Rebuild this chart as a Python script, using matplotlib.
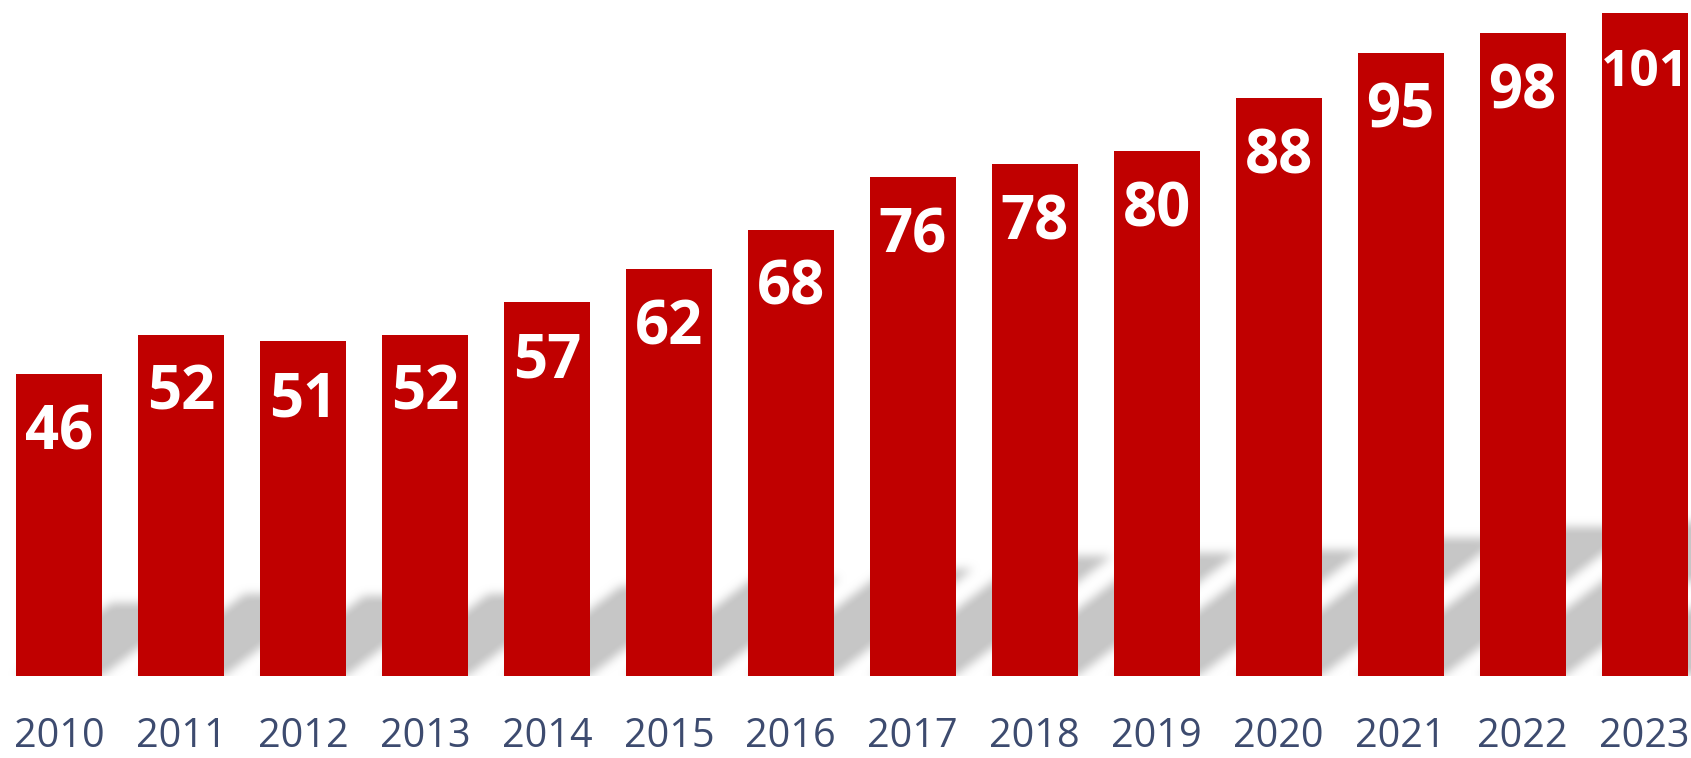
import numpy as np
import matplotlib
matplotlib.use("Agg")
import matplotlib.pyplot as plt

years = ["2010", "2011", "2012", "2013", "2014", "2015", "2016",
         "2017", "2018", "2019", "2020", "2021", "2022", "2023"]
values = [46, 52, 51, 52, 57, 62, 68, 76, 78, 80, 88, 95, 98, 101]

bar_color = "#C00000"
year_color = "#3D4B6F"
plt.rcParams["font.family"] = ["Open Sans", "DejaVu Sans"]

W, H = 1691, 758
fig = plt.figure(figsize=(W / 100, H / 100), dpi=100)
ax = fig.add_axes([0, 82 / H, 1, 676 / H])

xmin, xmax = -0.483, 13.38
ymin, ymax = 0, 103
width = 0.705
x = np.arange(len(values))


def box_blur(a, r, axis):
    # simple moving-average blur along one axis
    pad = [(0, 0), (0, 0)]
    pad[axis] = (r + 1, r)
    c = np.cumsum(np.pad(a, pad, mode="edge"), axis=axis)
    if axis == 0:
        return (c[2 * r + 1:, :] - c[:-2 * r - 1, :]) / (2 * r + 1)
    return (c[:, 2 * r + 1:] - c[:, :-2 * r - 1]) / (2 * r + 1)


# soft slanted shadow behind each bar (derived from the bar values)
px_per_y = 676 / (ymax - ymin)
sy0, sy1 = -8 / px_per_y, 210 / px_per_y
gx = np.linspace(xmin, xmax, W)
gy = np.linspace(sy0, sy1, 218)
X, Y = np.meshgrid(gx, gy)
shear = 1.3 * px_per_y / (W / (xmax - xmin))
mask = np.zeros_like(X)
for xi, v in zip(x, values):
    x0, x1 = xi - width / 2, xi + width / 2
    inside = (X >= x0 + shear * Y) & (X <= x1 + shear * Y) & (Y >= 0) & (Y <= 0.24 * v)
    mask[inside] = 1.0
for _ in range(3):
    mask = box_blur(mask, 4, 0)
    mask = box_blur(mask, 4, 1)
rgba = np.zeros(mask.shape + (4,))
rgba[..., :3] = 0.78
rgba[..., 3] = np.clip(mask * 1.05, 0, 1)
ax.imshow(rgba, extent=[xmin, xmax, sy0, sy1], origin="lower",
          aspect="auto", interpolation="bilinear", zorder=1)

bars = ax.bar(x, values, width=width, color=bar_color, zorder=2)

for xi, v in zip(x, values):
    size = 43 if v < 100 else 37
    ax.annotate(str(v), xy=(xi, v), xytext=(0, -43), textcoords="offset points",
                ha="center", va="center", color="white", fontsize=size,
                fontweight="bold", zorder=3)

ax.set_xlim(xmin, xmax)
ax.set_ylim(ymin, ymax)
ax.set_xticks(x)
ax.set_xticklabels(years, color=year_color, fontsize=28.5)
ax.tick_params(axis="x", length=0, pad=29)
ax.set_yticks([])
for s in ax.spines.values():
    s.set_visible(False)

fig.savefig("out.png", dpi=100)
